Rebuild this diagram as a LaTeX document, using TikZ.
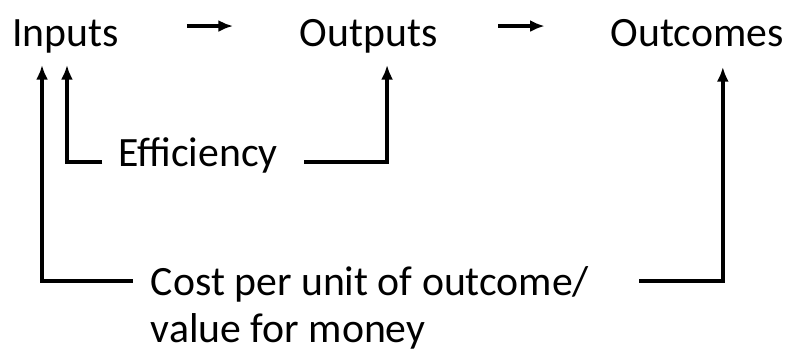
\documentclass[tikz,border=0pt]{standalone}
\usepackage{fontspec}
\setmainfont{Carlito}
\usepackage{tikz}
\usetikzlibrary{arrows.meta}
\tikzstyle{word} = [inner sep=0pt, outer sep=0pt, text height=22pt, text depth=6pt,
    font=\fontsize{31.3pt}{35.25pt}\selectfont]
\tikzstyle{line} = [draw, line width=2.6pt, -{Latex[length=11pt,width=9pt]}]

\begin{document}
\begin{tikzpicture}[x=0.75pt, y=-0.75pt, node distance = 3cm]
  \useasboundingbox (0,0) rectangle (790,351);
  \node [word] (inputs) at (65.5,36.3) {Inputs};
  \node [word, right of=inputs, node distance = 227.3pt] (outputs) {Outputs};
  \node [word, right of=outputs, node distance = 246.4pt] (outcomes) {Outcomes};
  \node [word, below of=inputs, node distance = 90pt, xshift=99.4pt] (eff)
  {Efficiency};
  \node [word, text height=, text depth=, align=left, below of=inputs,
    node distance = 203.4pt, xshift=228.4pt] (cost)
  {Cost per unit of outcome/\\value for money};
  \draw [line, shorten <=51pt, shorten >=50pt]
    ([yshift=7.7pt]inputs.east) -- ([yshift=7.7pt]outputs.west);
  \draw [line, shorten <=45.7pt, shorten >=49.5pt]
    ([yshift=7.7pt]outputs.east) -- ([yshift=7.7pt]outcomes.west);
  \draw [line] ([xshift=-12pt,yshift=-4.3pt]eff.west)
    -| ([xshift=1.1pt,yshift=-13.5pt]inputs.base);
  \draw [line] ([xshift=20pt,yshift=-4.3pt]eff.east)
    -| ([xshift=13.9pt,yshift=-13.5pt]outputs.base);
  \draw [line] ([xshift=-13.5pt,yshift=19.9pt]cost.west)
    -| ([xshift=-17.6pt,yshift=-13.5pt]inputs.base);
  \draw [line] ([xshift=37.5pt,yshift=19.9pt]cost.east)
    -| ([xshift=19.3pt,yshift=-15pt]outcomes.base);
\end{tikzpicture}
\end{document}
